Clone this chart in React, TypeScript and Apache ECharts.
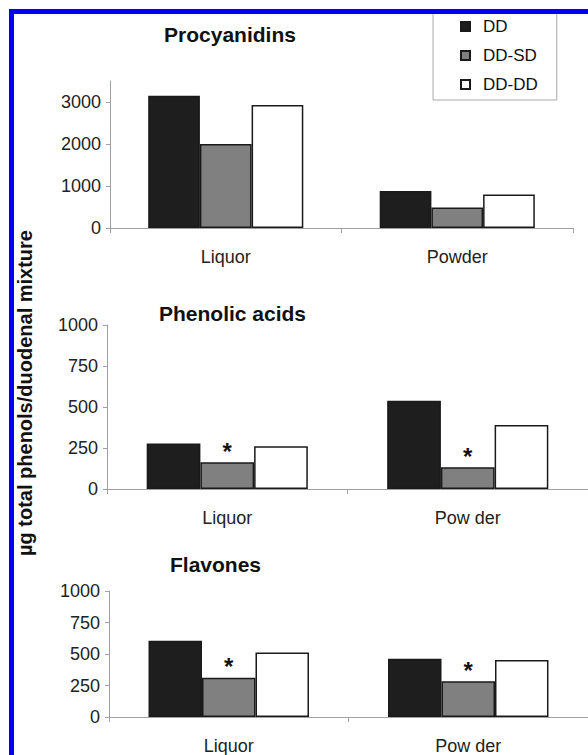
import React, { useEffect, useRef } from "react";
import * as echarts from "echarts";

const categoriesTop = ["Liquor", "Powder"];
const categoriesLower = ["Liquor", "Pow der"];
const seriesNames = ["DD", "DD-SD", "DD-DD"];

const procyanidinsDD = [3150, 880];
const procyanidinsSD = [2000, 490];
const procyanidinsDDDD = [2930, 800];

const phenolicDD = [278, 538];
const phenolicSD = [163, 133];
const phenolicDDDD = [260, 390];

const flavonesDD = [605, 462];
const flavonesSD = [312, 283];
const flavonesDDDD = [512, 452];

const phenolicMarks = ["*", "*"];
const flavonesMarks = ["*", "*"];

const panelTitles = ["Procyanidins", "Phenolic acids", "Flavones"];
const yAxisTitle = "µg total phenols/duodenal mixture";

const FONT = "'Liberation Sans', Arial, Helvetica, sans-serif";
const fills = ["#1e1e1e", "#808080", "#ffffff"];

export default function App() {
  const ref = useRef<HTMLDivElement>(null);

  useEffect(() => {
    document.body.style.margin = "0";
    if (!ref.current) return;
    const chart = echarts.init(ref.current, null, { renderer: "svg" });

    const grids = [
      { left: 110, top: 81, width: 463, height: 147 },
      { left: 107, top: 325, width: 487, height: 164 },
      { left: 109, top: 591, width: 482, height: 134 },
    ];
    const yMax = [3500, 1000, 1000];
    const yInt = [1000, 250, 250];
    const showMax = [false, true, true];
    const cats = [categoriesTop, categoriesLower, categoriesLower];
    const data = [
      [procyanidinsDD, procyanidinsSD, procyanidinsDDDD],
      [phenolicDD, phenolicSD, phenolicDDDD],
      [flavonesDD, flavonesSD, flavonesDDDD],
    ];
    const marks: (string[] | null)[] = [null, phenolicMarks, flavonesMarks];

    const axisColor = "#a0a0a0";
    const xAxis = grids.map((_, i) => ({
      type: "category",
      gridIndex: i,
      data: cats[i],
      axisLine: { lineStyle: { color: axisColor, width: 1 } },
      axisTick: { show: true, length: 5, lineStyle: { color: axisColor } },
      axisLabel: { fontSize: 18, fontFamily: FONT, color: "#222", margin: 20 },
    }));
    const yAxis = grids.map((_, i) => ({
      type: "value",
      gridIndex: i,
      min: 0,
      max: yMax[i],
      interval: yInt[i],
      splitLine: { show: false },
      axisLine: { show: true, lineStyle: { color: axisColor, width: 1 } },
      axisTick: { show: true, length: 4, lineStyle: { color: axisColor } },
      axisLabel: {
        fontSize: 18,
        fontFamily: FONT,
        color: "#222",
        margin: 9,
        showMaxLabel: showMax[i],
        formatter: (v: number) => (v % yInt[i] === 0 ? String(v) : ""),
      },
    }));

    const series: any[] = [];
    data.forEach((panel, pi) => {
      panel.forEach((vals, si) => {
        const m = marks[pi];
        series.push({
          type: "bar",
          name: seriesNames[si],
          xAxisIndex: pi,
          yAxisIndex: pi,
          data: vals,
          barGap: "0%",
          barCategoryGap: "33%",
          itemStyle: { color: fills[si], borderColor: "#1a1a1a", borderWidth: 1.5 },
          label:
            si === 1 && m
              ? {
                  show: true,
                  position: "top",
                  distance: -1,
                  formatter: (p: any) => m[p.dataIndex],
                  fontSize: 24,
                  fontWeight: "bold",
                  fontFamily: FONT,
                  color: "#111",
                }
              : { show: false },
          emphasis: { disabled: true },
        });
      });
    });

    const titlePos = [
      { x: 230, y: 34.5 },
      { x: 232.5, y: 313.5 },
      { x: 215.5, y: 564.5 },
    ];

    const graphic: any[] = [
      ...panelTitles.map((t, i) => ({
        type: "text",
        x: titlePos[i].x,
        y: titlePos[i].y,
        style: {
          text: t,
          fontSize: 21,
          fontWeight: "bold",
          fontFamily: FONT,
          fill: "#111",
          align: "center",
          verticalAlign: "middle",
        },
      })),
      {
        type: "text",
        x: 25,
        y: 393,
        rotation: Math.PI / 2,
        style: {
          text: yAxisTitle,
          fontSize: 20,
          fontWeight: "bold",
          fontFamily: FONT,
          fill: "#111",
          align: "center",
          verticalAlign: "middle",
        },
      },
      {
        type: "rect",
        z: 100,
        shape: { x: 9, y: 9, width: 579, height: 5 },
        style: { fill: "#0000f0" },
      },
      {
        type: "rect",
        z: 100,
        shape: { x: 9, y: 9, width: 5, height: 746 },
        style: { fill: "#0000f0" },
      },
    ];

    chart.setOption({
      animation: false,
      backgroundColor: "#ffffff",
      grid: grids,
      xAxis,
      yAxis,
      series,
      legend: {
        data: seriesNames,
        orient: "vertical",
        left: 433,
        top: 12,
        padding: [6, 19, 7, 27],
        itemWidth: 9,
        itemHeight: 9,
        itemGap: 12,
        icon: "rect",
        borderColor: "#aaaaaa",
        borderWidth: 1,
        backgroundColor: "#ffffff",
        selectedMode: false,
        textStyle: { fontSize: 17, fontFamily: FONT, color: "#111", padding: [0, 0, 0, 8] },
      },
      graphic,
    });

    return () => chart.dispose();
  }, []);

  return <div ref={ref} style={{ width: 588, height: 755 }} />;
}
